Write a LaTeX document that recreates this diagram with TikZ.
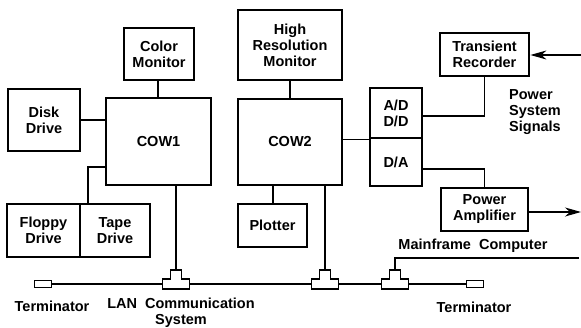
\documentclass[tikz,border=0pt]{standalone}
\usepackage{fontspec}
\setmainfont{Liberation Sans}
\usetikzlibrary{arrows.meta}
\begin{document}
\begin{tikzpicture}[x=1pt,y=-1pt,
  every node/.style={font=\bfseries\fontsize{14.5}{16}\selectfont, inner sep=0pt},
  unit/.style={draw, line width=2.8pt, rectangle, align=center},
  wire/.style={line width=1.2pt},
  bus/.style={line width=1.6pt},
  term/.style={draw, line width=1.2pt, minimum width=17pt, minimum height=7.5pt},
  sig/.style={wire, -{Stealth[length=16pt,width=9pt,inset=5pt]}},
  teeconn/.pic={
    \draw[line width=1.3pt] (-13.5,5) -- (-13.5,-5) -- (-5.5,-5) -- (-5.5,-14)
      -- (5.5,-14) -- (5.5,-5) -- (13.5,-5) -- (13.5,5) -- cycle;
    \coordinate (-top) at (0,-14);
    \coordinate (-left) at (-13.5,0);
    \coordinate (-right) at (13.5,0);
  },
]
\useasboundingbox (0,0) rectangle (581,328);

% workstations and peripherals
\node[unit, minimum width=70pt, minimum height=52pt] (cm) at (159,54) {Color\\Monitor};
\node[unit, minimum width=72pt, minimum height=62pt] (dd) at (44,120) {Disk\\Drive};
\node[unit, minimum width=105pt, minimum height=87pt] (cow1) at (158.5,141.5) {COW1};
\node[unit, minimum width=104pt, minimum height=70pt] (hrm) at (290,45) {High\\Resolution\\Monitor};
\node[unit, minimum width=104pt, minimum height=86pt] (cow2) at (290,142) {COW2};
\node[unit, minimum width=69pt, minimum height=43pt] (plot) at (272.5,225.5) {Plotter};
\node[unit, minimum width=73pt, minimum height=53pt] (floppy) at (43.5,230.5) {Floppy\\Drive};
\node[unit, minimum width=70pt, minimum height=53pt] (tape) at (115,230.5) {Tape\\Drive};

% converter unit
\node[unit, minimum width=52pt, minimum height=50pt] (ad) at (396,113) {A/D\\D/D};
\node[unit, minimum width=52pt, minimum height=48pt] (da) at (396,162) {D/A};

% power system side
\node[unit, minimum width=89pt, minimum height=43pt] (tr) at (484.5,54.5) {Transient\\Recorder};
\node[unit, minimum width=87pt, minimum height=43pt] (pa) at (484.5,209.5) {Power\\Amplifier};

% LAN
\node[term] (lt) at (43,284) {};
\node[term] (rt) at (475,284) {};
\pic (t1) at (176,284) {teeconn};
\pic (t2) at (325,284) {teeconn};
\pic (t3) at (395,284) {teeconn};

% labels
\node (lterm) at (52,306) {Terminator};
\node[align=center] (lan) at (181,313) {LAN\ \ Communication\\System};
\node (rterm) at (474,307) {Terminator};
\node (mfl) at (473,246) {Mainframe\ \ Computer};
\node[align=left, anchor=west] (pss) at (509,112) {Power\\System\\Signals};

% free ends
\coordinate (sigin) at (581,55);
\coordinate (sigout) at (581,212);
\coordinate (mf) at (579,258);

% connections
\draw[wire] (cm.south -| 158,0) -- (cow1.north -| 158,0);
\draw[wire] (dd.east) -- (dd.east -| cow1.west);
\draw[wire] (cow1.west |- 0,167) -| (88,0 |- tape.north);
\draw[wire] (cow1.south -| t1-top) -- (t1-top);
\draw[wire] (hrm.south) -- (cow2.north);
\draw[wire] (cow2.south -| 273,0) -- (plot.north -| 273,0);
\draw[wire] (cow2.south -| t2-top) -- (t2-top);
\draw[wire] (cow2.east |- ad.south) -- (ad.south west);
\draw[wire] (ad.east |- 0,116) -| (tr.south);
\draw[wire] (da.east |- 0,169) -| (pa.north);
\draw[sig] (sigin) -- (sigin -| tr.east);
\draw[sig] (pa.east |- sigout) -- (sigout);
\draw[wire] (mf) -| (t3-top);
\draw[bus] (lt.east) -- (t1-left);
\draw[bus] (t1-right) -- (t2-left);
\draw[bus] (t2-right) -- (t3-left);
\draw[bus] (t3-right) -- (rt.west);
\end{tikzpicture}
\end{document}
